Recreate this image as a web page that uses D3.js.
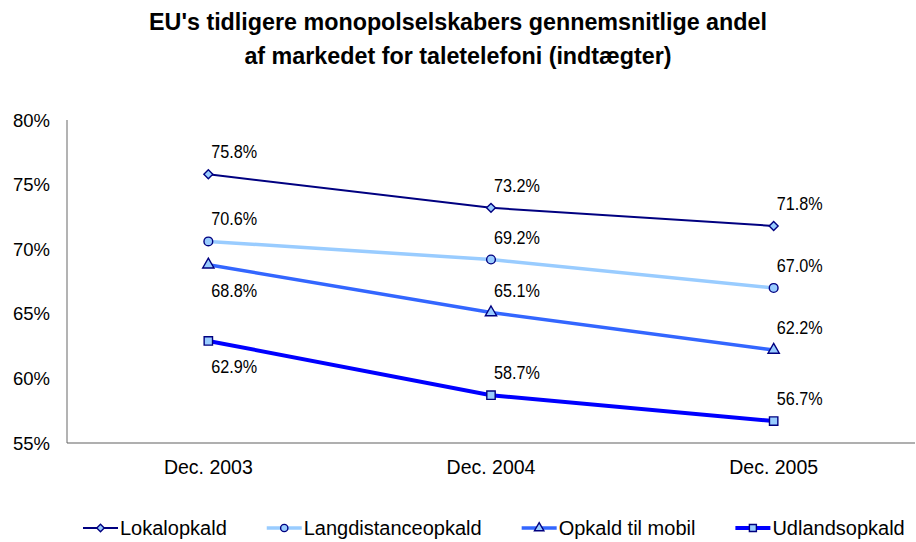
<!DOCTYPE html>
<html>
<head>
<meta charset="utf-8">
<script src="https://cdn.jsdelivr.net/npm/d3@7"></script>
<style>
  body { margin: 0; background: #fff; }
  svg { font-family: Arial, "Liberation Sans", sans-serif; }
</style>
</head>
<body>
<svg id="chart" width="916" height="542"></svg>
<script>
const titleLines = ["EU's tidligere monopolselskabers gennemsnitlige andel", "af markedet for taletelefoni (indtægter)"];
const periods = ['Dec. 2003', 'Dec. 2004', 'Dec. 2005'];
const yTicks = [0.55, 0.60, 0.65, 0.70, 0.75, 0.80];

const seriesNames = ['Lokalopkald', 'Langdistanceopkald', 'Opkald til mobil', 'Udlandsopkald'];
const lokal = [0.758, 0.732, 0.718];
const langdistance = [0.706, 0.692, 0.670];
const mobil = [0.688, 0.651, 0.622];
const udland = [0.629, 0.587, 0.567];

// label goes below the point for these (series index, point index)
const labelsBelow = [[2, 0], [3, 0]];

const diamond = {
  draw(ctx, size) {
    const r = Math.sqrt(size / 2);
    ctx.moveTo(0, -r); ctx.lineTo(r, 0); ctx.lineTo(0, r); ctx.lineTo(-r, 0); ctx.closePath();
  }
};

const styles = [
  {color: '#000080', width: 2, symbol: diamond, size: 40},
  {color: '#99ccff', width: 3.5, symbol: d3.symbolCircle, size: 60},
  {color: '#3366ff', width: 3.5, symbol: d3.symbolTriangle, size: 55},
  {color: '#0000ff', width: 4, symbol: d3.symbolSquare, size: 70}
];

const series = [lokal, langdistance, mobil, udland].map((values, i) => ({
  name: seriesNames[i],
  style: styles[i],
  points: values.map((v, j) => ({period: periods[j], value: v, below: labelsBelow.some(b => b[0] === i && b[1] === j)}))
}));

const svg = d3.select('#chart');

const x = d3.scaleBand()
    .domain(periods)
    .range([67, 915]);

const y = d3.scaleLinear()
    .domain([0.55, 0.80])
    .range([443, 120]);

const cx = d => x(d.period) + x.bandwidth() / 2;

// title
svg.append('text')
    .attr('text-anchor', 'middle')
    .attr('font-weight', 'bold')
    .attr('font-size', 23.3)
    .attr('fill', '#000')
  .selectAll('tspan')
  .data(titleLines)
  .join('tspan')
    .attr('x', 458)
    .attr('y', (d, i) => 30 + i * 34)
    .text(d => d);

// axes
svg.append('line')
    .attr('x1', 67).attr('x2', 67)
    .attr('y1', y(0.80)).attr('y2', y(0.55))
    .attr('stroke', '#808080').attr('stroke-width', 1.2);

svg.append('line')
    .attr('x1', 67).attr('x2', 915)
    .attr('y1', y(0.55)).attr('y2', y(0.55))
    .attr('stroke', '#606060').attr('stroke-width', 1.2);

svg.append('g')
  .selectAll('text')
  .data(yTicks)
  .join('text')
    .attr('x', 50)
    .attr('y', d => y(d) + 6.5)
    .attr('text-anchor', 'end')
    .attr('font-size', 18.5)
    .text(d => d3.format('.0%')(d));

svg.append('g')
  .selectAll('text')
  .data(periods)
  .join('text')
    .attr('x', d => x(d) + x.bandwidth() / 2)
    .attr('y', 474)
    .attr('text-anchor', 'middle')
    .attr('font-size', 19.5)
    .text(d => d);

// lines
const line = d3.line()
    .x(cx)
    .y(d => y(d.value));

const sg = svg.append('g')
  .selectAll('g')
  .data(series)
  .join('g');

sg.append('path')
    .attr('d', d => line(d.points))
    .attr('fill', 'none')
    .attr('stroke', d => d.style.color)
    .attr('stroke-width', d => d.style.width);

sg.each(function(s) {
  d3.select(this).selectAll('path.marker')
    .data(s.points)
    .join('path')
      .attr('class', 'marker')
      .attr('d', d3.symbol(s.style.symbol, s.style.size))
      .attr('transform', d => `translate(${cx(d)},${y(d.value)})`)
      .attr('fill', '#99ccff')
      .attr('stroke', '#000080')
      .attr('stroke-width', 1.4);
});

// data labels
sg.each(function(s) {
  d3.select(this).selectAll('text')
    .data(s.points)
    .join('text')
      .attr('transform', d => `translate(${cx(d) + 3},${y(d.value) + (d.below ? 32 : -16)}) scale(0.9,1)`)
      .attr('font-size', 18)
      .attr('fill', '#000')
      .text(d => d3.format('.1%')(d.value));
});

// legend
const legend = svg.append('g');
let lx = 83;
series.forEach(s => {
  const item = legend.append('g').attr('transform', `translate(${lx},528)`);
  item.append('line')
      .attr('x1', 0).attr('x2', 35)
      .attr('stroke', s.style.color)
      .attr('stroke-width', s.style.width);
  item.append('path')
      .attr('d', d3.symbol(s.style.symbol, s.style.size * 0.7))
      .attr('transform', 'translate(17.5,0)')
      .attr('fill', '#99ccff')
      .attr('stroke', '#000080')
      .attr('stroke-width', 1.4);
  const t = item.append('text')
      .attr('x', 37)
      .attr('y', 7)
      .attr('font-size', 20)
      .text(s.name);
  lx += 37 + t.node().getComputedTextLength() + 40;
});
</script>
</body>
</html>
